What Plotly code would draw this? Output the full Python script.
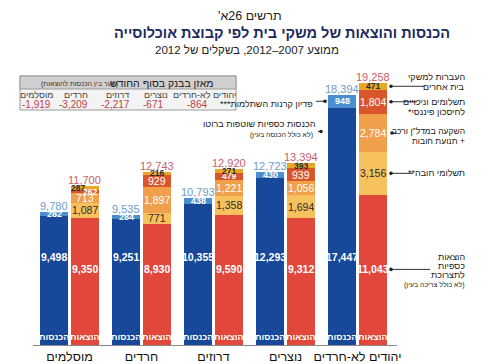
import plotly.graph_objects as go

# ---------------- data ----------------
groups = ["מוסלמים", "חרדים", "דרוזים", "נוצרים", "יהודים לא-חרדים"]
income_base = [9498, 9251, 10355, 12293, 17447]      # הכנסות כספיות שוטפות ברוטו
income_fund = [282, 284, 438, 430, 948]              # פדיון קרנות השתלמות
income_total = [9780, 9535, 10793, 12723, 18394]
exp_base = [9350, 8930, 9590, 9312, 11043]           # הוצאות כספיות לתצרוכת
exp_mandatory = [1087, 771, 1358, 1694, 3156]        # תשלומי חובה
exp_invest = [713, 1897, 1221, 1056, 2784]           # השקעה במדל"ן ורכב + תנועת חובות
exp_savings = [262, 929, 479, 939, 1804]             # תשלומים וניכויים לחיסכון פיננסי
exp_transfers = [287, 216, 271, 393, 471]            # העברות למשקי בית אחרים
exp_total = [11700, 12743, 12920, 13394, 19258]
balance = [-1919, -3209, -2217, -671, -864]          # מאזן בבנק בסוף החודש

# ---------------- styles ----------------
FONT = "Liberation Sans, Arial, sans-serif"
C_INC = "#17489a"
C_FUND = "#4b8fcf"
C_BASE = "#e2473b"
C_MAND = "#f7c25e"
C_INV = "#f0a04b"
C_SAV = "#d9552c"
C_TRF = "#e8a726"
DARK = "#2b2b2b"
WHITE = "#ffffff"

W, H = 490, 364
ML, MR, MT, MB = 33, 93, 73, 19
PW = W - ML - MR
PH = H - MT - MB
BAR_W = 0.40
OFF = 0.215
X0 = -0.507
X1 = X0 + PW / 72.0
YMAX = 20000


def rtl(s):
    return "\u200f" + s + "\u200f"


def px_x(p):
    return (p - ML) / PW


def px_y(p):
    return (H - MB - p) / PH


fig = go.Figure()

xi = [i - OFF for i in range(len(groups))]
xe = [i + OFF for i in range(len(groups))]

inc_layers = [(income_base, C_INC), (income_fund, C_FUND)]
exp_layers = [(exp_base, C_BASE), (exp_mandatory, C_MAND), (exp_invest, C_INV),
              (exp_savings, C_SAV), (exp_transfers, C_TRF)]

for vals, col in inc_layers:
    fig.add_trace(go.Bar(x=xi, y=vals, width=BAR_W, marker=dict(color=col, line=dict(width=0)),
                         hoverinfo="skip", showlegend=False))
for vals, col in exp_layers:
    fig.add_trace(go.Bar(x=xe, y=vals, width=BAR_W, marker=dict(color=col, line=dict(width=0)),
                         hoverinfo="skip", showlegend=False))

ann = []


def lab(x, y, text, color, size, bold=False, xshift=0, yshift=0, xref="x", yref="y",
        xanchor="center", yanchor="middle"):
    t = "<b>" + text + "</b>" if bold else text
    ann.append(dict(x=x, y=y, xref=xref, yref=yref, text=t, showarrow=False,
                    font=dict(family=FONT, size=size, color=color), xshift=xshift, yshift=yshift,
                    xanchor=xanchor, yanchor=yanchor))


INC_LABEL_Y = 6470
EXP_LABEL_Y = 5560

# income labels
for i in range(len(groups)):
    lab(xi[i], INC_LABEL_Y, f"{income_base[i]:,}", WHITE, 10.5, bold=True)
    mid = income_base[i] + income_fund[i] / 2
    lab(xi[i], mid, f"{income_fund[i]:,}", WHITE, 9, bold=True)
    lab(xi[i], income_total[i], f"{income_total[i]:,}", "#6d9cc9", 11, yanchor="bottom", yshift=-2)
    lab(xi[i], 0, rtl("הכנסות"), WHITE, 9, bold=True, yanchor="bottom", yshift=1)

# expense labels
exp_label_colors = [WHITE, DARK, WHITE, WHITE, DARK]
for i in range(len(groups)):
    cum = 0
    for k, (vals, col) in enumerate(exp_layers):
        v = vals[i]
        mid = cum + v / 2
        cum += v
        if k == 0:
            lab(xe[i], EXP_LABEL_Y, f"{v:,}", WHITE, 10.5, bold=True)
            continue
        small = v < 500
        size = 8.5 if small else 10.5
        xs = 0
        if i == 0 and k == 4:
            xs = -7
        if i == 0 and k == 3:
            xs = 5
        lab(xe[i], mid, f"{v:,}", exp_label_colors[k], size, bold=small, xshift=xs)
    lab(xe[i], exp_total[i], f"{exp_total[i]:,}", "#c9606b", 11, yanchor="bottom", yshift=-2)
    lab(xe[i], 0, rtl("הוצאות"), WHITE, 9, bold=True, yanchor="bottom", yshift=1)

# titles
lab(px_x(250), px_y(16), rtl("תרשים 26א'"), "#222222", 12.5, xref="paper", yref="paper")
lab(px_x(282), px_y(33), rtl("הכנסות והוצאות של משקי בית לפי קבוצת אוכלוסייה"), "#1c2a5c", 14.5,
    bold=True, xref="paper", yref="paper")
lab(px_x(247), px_y(50), rtl("ממוצע 2007–2012, בשקלים של 2012"), "#222222", 11.5,
    xref="paper", yref="paper")

shapes = []

# balance table
TL, TR, TT, TB, TH = 20, 236, 76, 110, 89
shapes.append(dict(type="rect", xref="paper", yref="paper", x0=px_x(TL), x1=px_x(TR),
                   y0=px_y(TB), y1=px_y(TT), fillcolor="#f3f3f3", line=dict(color="#9a9a9a", width=1)))
shapes.append(dict(type="rect", xref="paper", yref="paper", x0=px_x(TL), x1=px_x(TR),
                   y0=px_y(TH), y1=px_y(TT), fillcolor="#cfcfcf", line=dict(color="#9a9a9a", width=1)))
lab(px_x(162), px_y(83), rtl("מאזן בבנק בסוף החודש"), "#222222", 10.5, xref="paper", yref="paper")
lab(px_x(79), px_y(83.5), rtl("(פער בין הכנסות להוצאות)"), "#333333", 7, xref="paper", yref="paper")
name_x = [36, 76, 117, 156, 204]
val_x = [36, 73, 115, 153, 197]
for i in range(len(groups)):
    lab(px_x(name_x[i]), px_y(95), rtl(groups[i]), "#444444", 9, xref="paper", yref="paper")
    lab(px_x(val_x[i]), px_y(104), f"{balance[i]:,}", "#c0404d", 10, xref="paper", yref="paper")

# leader lines and dots
J = len(groups) - 1


def leader(x_dot, y_data, x_end):
    shapes.append(dict(type="line", xref="paper", yref="y", x0=px_x(x_dot), x1=px_x(x_end),
                       y0=y_data, y1=y_data, line=dict(color="#333333", width=1)))
    r = 1.8
    shapes.append(dict(type="circle", xref="paper", yref="y", x0=px_x(x_dot - r), x1=px_x(x_dot + r),
                       y0=y_data - r / (PH / YMAX), y1=y_data + r / (PH / YMAX),
                       fillcolor="#222222", line=dict(width=0)))


cum = 0
mids = []
for vals, col in exp_layers:
    mids.append(cum + vals[J] / 2)
    cum += vals[J]
leader(391, EXP_LABEL_Y, 430)     # next to the base value label
leader(391, mids[1], 413)
leader(392, mids[2], 396)
leader(391, mids[3], 417)
leader(391, mids[4], 424)
leader(325, income_base[J] + income_fund[J] / 2, 316)
leader(321, 15700, 318)

RX = px_x(467)
right_lines = [
    ("העברות למשקי", 77, 9), ("בית אחרים", 87, 9),
    ("תשלומים וניכויים", 102, 9), ("לחיסכון פיננסי*", 112, 9),
    ("השקעה במדל\"ן ורכב", 131, 8.5), ("+ תנועת חובות", 141, 8.5),
    ("תשלומי חובה**", 173, 9),
    ("הוצאות", 257, 9), ("כספיות", 266, 9), ("לתצרוכת", 275, 9),
    ("(לא כולל צריכה בעין)", 285, 7),
]
for t, y, s in right_lines:
    lab(RX, px_y(y), rtl(t), "#222222", s, xref="paper", yref="paper", xanchor="right")

left_lines = [
    ("פדיון קרנות השתלמות***", 104, 9, 315),
    ("הכנסות כספיות שוטפות ברוטו", 124, 9, 317),
    ("(לא כולל הכנסה בעין)", 135, 7, 315),
]
for t, y, s, xr in left_lines:
    lab(px_x(xr), px_y(y), rtl(t), "#222222", s, xref="paper", yref="paper", xanchor="right")

fig.update_layout(
    width=W, height=H, autosize=False,
    margin=dict(l=ML, r=MR, t=MT, b=MB, pad=0),
    barmode="stack",
    plot_bgcolor="white", paper_bgcolor="white",
    font=dict(family=FONT, size=12, color="#222222"),
    showlegend=False,
    annotations=ann, shapes=shapes,
    xaxis=dict(range=[X0, X1], tickvals=list(range(len(groups))), ticktext=[rtl(g) for g in groups],
               showgrid=False, zeroline=False, showline=True, linecolor="#8a8a8a", linewidth=1,
               ticks="", tickfont=dict(family=FONT, size=12.5, color="#111111"), automargin=False,
               fixedrange=True),
    yaxis=dict(range=[0, YMAX], visible=False, showgrid=False, zeroline=False, automargin=False,
               fixedrange=True),
)

fig.write_html("out.html", config={"displayModeBar": False},
               post_script="document.body.style.margin='0px';document.body.style.padding='0px';")
